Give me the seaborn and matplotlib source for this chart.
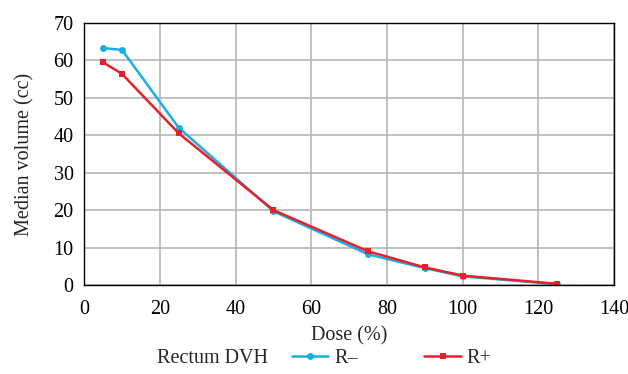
import pandas as pd
import seaborn as sns
from matplotlib import pyplot as plt

dose = [5, 10, 25, 50, 75, 90, 100, 125]
r_minus = [63.3, 62.8, 42.0, 19.7, 8.2, 4.5, 2.3, 0.2]
r_plus = [59.5, 56.4, 40.5, 20.0, 9.0, 4.7, 2.5, 0.3]
series = ["R\u2013", "R+"]

df = pd.DataFrame({
    "Dose": dose * 2,
    "Volume": r_minus + r_plus,
    "Series": [series[0]] * len(dose) + [series[1]] * len(dose),
})

sns.set_style("white")
plt.rcParams['font.family'] = ['Liberation Serif', 'DejaVu Serif']

fig = plt.figure(figsize=(6.28, 3.74), dpi=100)
ax = fig.add_axes([0.134, 0.238, 0.844, 0.7005])

sns.lineplot(data=df, x="Dose", y="Volume", hue="Series", style="Series",
             palette={series[0]: "#1aaee6", series[1]: "#e8202a"},
             markers={series[0]: "o", series[1]: "s"}, dashes=False,
             markersize=5, markeredgewidth=0, linewidth=1.8, ax=ax, legend=True)

ax.set_xlim(0, 140)
ax.set_ylim(0, 70)
ax.set_xticks(range(0, 141, 20))
ax.set_yticks(range(0, 71, 10))
ax.grid(color="#b5b5b5", linewidth=1.2)
ax.set_axisbelow(True)
for s in ax.spines.values():
    s.set_color("black")
    s.set_linewidth(1.0)
ax.tick_params(axis="x", direction="out", length=5, width=1, pad=6, labelsize=14.5, colors="black")
ax.tick_params(axis="y", direction="inout", length=8, width=1, labelsize=14.5, colors="black")
ax.set_xlabel("Dose (%)", fontsize=14.5, labelpad=5)
ax.set_ylabel("Median volume (cc)", fontsize=14.5, labelpad=14)

handles, labels = ax.get_legend_handles_labels()
ax.get_legend().remove()
fig.text(0.25, 0.042, "Rectum DVH", fontsize=14.5, ha="left", va="center")
fig.legend(handles, labels, ncol=2, loc="center", bbox_to_anchor=(0.624, 0.042),
           frameon=False, fontsize=14.5, handlelength=1.8, columnspacing=3.3, handletextpad=0.3)

fig.savefig("out.png", dpi=100)
